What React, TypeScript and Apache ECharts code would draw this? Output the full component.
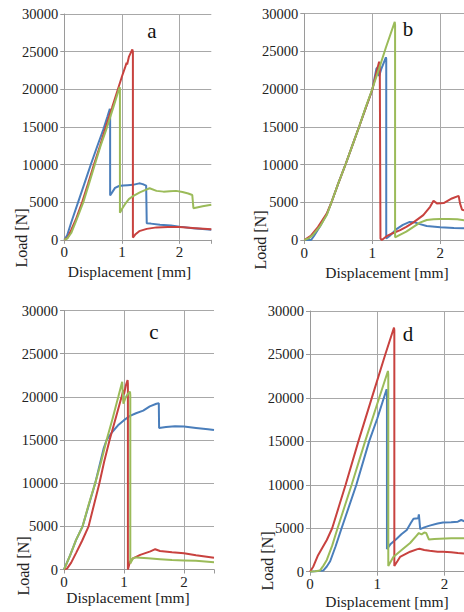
import React, { useEffect, useRef } from "react";
import * as echarts from "echarts";

type Pt = [number, number];

// ---- tick labels / axis names ----
const yTicks = [0, 5000, 10000, 15000, 20000, 25000, 30000];
const xName = "Displacement [mm]";
const yName = "Load [N]";
const panelLetters = ["a", "b", "c", "d"];

// ---- panel a ----
const aBlue: Pt[] = [[0,0],[0.05,600],[0.12,2300],[0.24,5000],[0.35,7500],[0.46,10000],[0.57,12400],[0.675,14600],[0.75,16400],[0.79,17400],[0.795,17200],[0.795,5900],[0.83,6300],[0.88,6900],[0.95,7150],[1.02,7200],[1.1,7250],[1.19,7300],[1.3,7500],[1.36,7400],[1.42,7200],[1.43,2200],[1.5,2150],[1.66,2000],[1.85,1900],[2.0,1750],[2.23,1550],[2.4,1450],[2.55,1330]];
const aRed: Pt[] = [[0,0],[0.06,300],[0.12,1300],[0.2,2700],[0.31,5000],[0.41,7400],[0.51,9900],[0.62,12500],[0.72,15000],[0.83,17600],[0.93,20000],[1.0,21700],[1.05,22800],[1.08,23500],[1.09,23300],[1.12,24300],[1.18,25300],[1.19,25000],[1.19,300],[1.23,700],[1.3,1150],[1.43,1450],[1.6,1650],[1.8,1700],[2.0,1700],[2.28,1550],[2.55,1400]];
const aGreen: Pt[] = [[0,0],[0.05,150],[0.12,900],[0.2,2400],[0.33,5000],[0.43,7500],[0.53,10000],[0.63,12500],[0.73,14700],[0.85,17600],[0.96,20300],[0.965,20000],[0.965,3600],[1.0,4100],[1.05,4700],[1.12,5400],[1.2,5850],[1.31,6300],[1.4,6600],[1.48,6850],[1.6,6500],[1.72,6400],[1.83,6450],[1.94,6500],[2.05,6350],[2.15,6150],[2.22,5950],[2.24,4200],[2.3,4300],[2.4,4450],[2.55,4650]];

// ---- panel b ----
const bBlue: Pt[] = [[0,0],[0.1,0],[0.14,500],[0.23,1800],[0.33,3400],[0.4,5000],[0.5,7500],[0.61,10100],[0.71,12600],[0.81,15100],[0.9,17400],[1.0,19900],[1.06,22700],[1.08,22900],[1.1,21700],[1.13,22600],[1.2,24200],[1.205,24000],[1.205,200],[1.25,500],[1.35,1400],[1.45,2000],[1.55,2400],[1.62,2350],[1.7,2100],[1.8,1850],[2.0,1700],[2.2,1600],[2.35,1550],[2.5,1500]];
const bRed: Pt[] = [[0,0],[0.05,300],[0.1,600],[0.2,1700],[0.33,3500],[0.4,5000],[0.5,7500],[0.61,10100],[0.71,12600],[0.81,15100],[0.9,17400],[1.0,19900],[1.05,21800],[1.1,23600],[1.11,23400],[1.12,200],[1.14,0],[1.21,500],[1.3,900],[1.41,1300],[1.5,1750],[1.6,2300],[1.75,3300],[1.85,4400],[1.9,5200],[1.95,4850],[2.05,4900],[2.17,5500],[2.27,5850],[2.29,4850],[2.32,4000],[2.4,3850],[2.5,3800]];
const bGreen: Pt[] = [[0,0],[0.07,250],[0.13,700],[0.23,1800],[0.33,3300],[0.4,5000],[0.5,7500],[0.61,10100],[0.71,12600],[0.81,15100],[0.9,17500],[1.0,20000],[1.1,22700],[1.2,25500],[1.33,28900],[1.335,28500],[1.335,350],[1.42,750],[1.5,1100],[1.6,1700],[1.7,2300],[1.8,2650],[1.9,2750],[2.0,2780],[2.12,2780],[2.25,2760],[2.35,2600],[2.5,2500]];

// ---- panel c ----
const cBlue: Pt[] = [[0,0],[0.1,1600],[0.2,3400],[0.31,5000],[0.52,10000],[0.66,14000],[0.71,15000],[0.8,15900],[0.9,16700],[1.0,17300],[1.1,17800],[1.2,18100],[1.32,18400],[1.43,18900],[1.54,19200],[1.58,19250],[1.585,16400],[1.7,16500],[1.85,16600],[2.0,16550],[2.2,16400],[2.4,16250],[2.5,16150]];
const cRed: Pt[] = [[0,0],[0.05,100],[0.12,800],[0.2,1900],[0.3,3300],[0.41,5000],[0.5,7500],[0.59,10000],[0.67,12500],[0.76,15000],[0.86,17500],[0.96,20000],[0.99,20800],[1.0,20300],[1.03,21300],[1.06,21950],[1.065,21500],[1.065,0],[1.1,900],[1.15,1300],[1.27,1700],[1.44,2100],[1.52,2350],[1.6,2150],[1.8,2000],[2.0,1880],[2.2,1650],[2.5,1350]];
const cGreen: Pt[] = [[0,0],[0.1,1600],[0.2,3400],[0.31,5000],[0.41,7500],[0.52,10000],[0.62,12500],[0.71,15000],[0.81,17500],[0.905,20000],[0.97,21750],[0.975,21000],[0.99,19200],[1.02,19800],[1.06,20300],[1.1,20600],[1.105,20200],[1.105,700],[1.15,1300],[1.2,1400],[1.4,1300],[1.6,1200],[1.8,1100],[2.0,1050],[2.2,1000],[2.5,850]];

// ---- panel d ----
const dBlue: Pt[] = [[0,0],[0.08,50],[0.2,150],[0.25,600],[0.3,1200],[0.38,2900],[0.47,5000],[0.69,10000],[0.88,15000],[1.0,17600],[1.14,21000],[1.145,20600],[1.145,2600],[1.2,3200],[1.29,3800],[1.36,4300],[1.44,4800],[1.5,5600],[1.54,6100],[1.61,6150],[1.62,6600],[1.64,4900],[1.7,5100],[1.78,5300],[1.9,5550],[1.98,5650],[2.1,5700],[2.2,5750],[2.25,5950],[2.3,5800],[2.5,5700]];
const dRed: Pt[] = [[0,0],[0.05,600],[0.12,1900],[0.25,3650],[0.33,5000],[0.43,7500],[0.53,10000],[0.72,15000],[0.92,20000],[1.12,25000],[1.25,28100],[1.255,27800],[1.255,650],[1.3,1200],[1.34,1700],[1.49,2300],[1.6,2600],[1.63,2650],[1.7,2500],[1.78,2400],[1.9,2300],[1.98,2300],[2.1,2250],[2.2,2150],[2.3,2100],[2.5,2000]];
const dGreen: Pt[] = [[0,0],[0.08,50],[0.15,150],[0.2,700],[0.25,1350],[0.33,3000],[0.41,5000],[0.62,10000],[0.82,15000],[1.0,19300],[1.16,23100],[1.165,22700],[1.165,650],[1.24,1700],[1.35,2400],[1.49,3300],[1.58,4100],[1.62,4450],[1.66,4300],[1.7,4500],[1.73,4450],[1.77,3700],[1.85,3750],[1.93,3800],[2.1,3850],[2.3,3850],[2.5,3800]];

const BLUE = "#4a7ebb";
const RED = "#c8423f";
const GREEN = "#9bbb59";
const SERIF = "Liberation Serif";

// layout per panel (pixel geometry)
const panels = [
  { left: 64.3, top: 14, width: 147, height: 225.8, xMax: 2.55, data: [aBlue, aRed, aGreen], xNamePos: [129.5, 271], yNamePos: [21, 238], letterPos: [152, 31] },
  { left: 304.3, top: 13.5, width: 170, height: 226.5, xMax: 2.5, data: [bBlue, bRed, bGreen], xNamePos: [387, 272], yNamePos: [260, 240], letterPos: [408, 29] },
  { left: 64, top: 310.5, width: 150, height: 259, xMax: 2.5, data: [cBlue, cRed, cGreen], xNamePos: [128, 597], yNamePos: [23, 566], letterPos: [154, 332] },
  { left: 310, top: 311, width: 168, height: 260.7, xMax: 2.5, data: [dBlue, dRed, dGreen], xNamePos: [387, 601], yNamePos: [267, 561], letterPos: [408, 334] },
];

export default function App() {
  const ref = useRef<HTMLDivElement>(null);
  useEffect(() => {
    if (!ref.current) return;
    const chart = echarts.init(ref.current, undefined, { renderer: "svg" });
    const grid: any[] = [];
    const xAxis: any[] = [];
    const yAxis: any[] = [];
    const series: any[] = [];
    const graphic: any[] = [];
    const colors = [BLUE, RED, GREEN];
    panels.forEach((p, i) => {
      grid.push({ left: p.left, top: p.top, width: p.width, height: p.height, outerBoundsMode: "none", containLabel: false });
      xAxis.push({
        type: "value", gridIndex: i, min: 0, max: p.xMax, interval: 1,
        axisLine: { show: true, lineStyle: { color: "#9a9a9a", width: 1 } },
        axisTick: { show: true, length: 4, lineStyle: { color: "#9a9a9a" } },
        axisLabel: { show: true, margin: 5, fontSize: 15, color: "#222", fontFamily: SERIF,
          formatter: (v: number) => (Math.abs(v - Math.round(v)) < 1e-9 ? String(Math.round(v)) : "") },
        splitLine: { show: true, showMaxLine: false, lineStyle: { color: "#a8a8a8", width: 1 } },
      });
      yAxis.push({
        type: "value", gridIndex: i, min: yTicks[0], max: yTicks[yTicks.length - 1], interval: yTicks[1] - yTicks[0],
        axisLine: { show: true, lineStyle: { color: "#9a9a9a", width: 1 } },
        axisTick: { show: true, length: 4, lineStyle: { color: "#9a9a9a" } },
        axisLabel: { show: true, margin: 6, fontSize: 14.5, color: "#222", fontFamily: SERIF,
          formatter: (v: number) => String(Math.round(v)) },
        splitLine: { show: true, lineStyle: { color: "#a8a8a8", width: 1 } },
      });
      p.data.forEach((d, k) => {
        series.push({
          type: "line", xAxisIndex: i, yAxisIndex: i, data: d, showSymbol: false, symbol: "none",
          lineStyle: { color: colors[k], width: 2 }, itemStyle: { color: colors[k] }, z: 3 + k,
        });
      });
      graphic.push({
        type: "text", x: p.xNamePos[0], y: p.xNamePos[1],
        style: { text: xName, fontSize: 15.5, fontFamily: SERIF, fill: "#222", textAlign: "center", textVerticalAlign: "middle" },
      });
      graphic.push({
        type: "text", x: p.yNamePos[0], y: p.yNamePos[1], rotation: Math.PI / 2,
        style: { text: yName, fontSize: 16, fontFamily: SERIF, fill: "#222", textAlign: "center", textVerticalAlign: "middle" },
      });
      graphic.push({
        type: "text", x: p.letterPos[0], y: p.letterPos[1],
        style: { text: panelLetters[i], fontSize: 21, fontFamily: SERIF, fill: "#111", textAlign: "center", textVerticalAlign: "middle" },
      });
    });
    chart.setOption({
      animation: false,
      backgroundColor: "#ffffff",
      textStyle: { fontFamily: SERIF },
      grid, xAxis, yAxis, series, graphic,
    });
    return () => chart.dispose();
  }, []);
  return <div ref={ref} style={{ position: "absolute", left: 0, top: 0, width: 464, height: 612 }} />;
}
